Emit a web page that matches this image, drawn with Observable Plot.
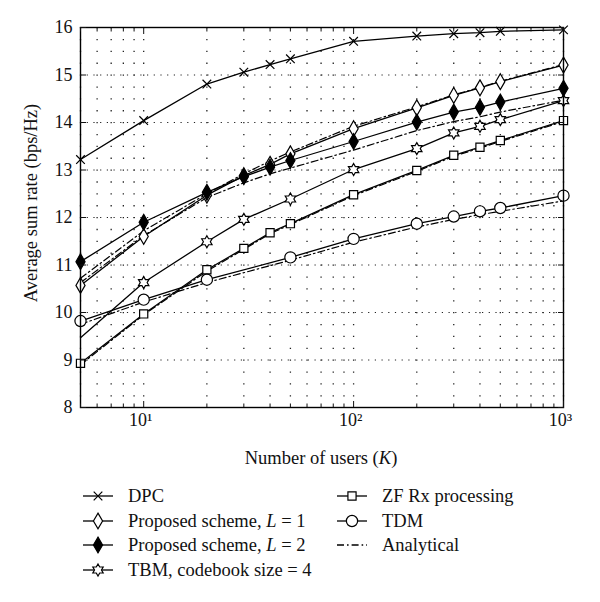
<!DOCTYPE html>
<html><head><meta charset="utf-8">
<script src="https://cdn.jsdelivr.net/npm/d3@7"></script>
<script src="https://cdn.jsdelivr.net/npm/@observablehq/plot@0.6"></script>
<style>
body{margin:0;background:#fff;font-family:"Liberation Serif","Times New Roman",serif;}
#wrap{position:relative;width:600px;height:602px;overflow:hidden;}
.row{position:absolute;height:24px;display:flex;align-items:center;font-size:18.5px;color:#111;white-space:nowrap;}
.row svg{margin-right:14px;}
</style></head><body><div id="wrap"></div>
<script>
// ---- data ----
const K = [5, 10, 20, 30, 40, 50, 100, 200, 300, 400, 500, 1000];
const dpc = [13.22, 14.04, 14.81, 15.06, 15.22, 15.34, 15.71, 15.82, 15.87, 15.89, 15.92, 15.95];
const propL1 = [10.57, 11.6, 12.47, 12.88, 13.12, 13.34, 13.87, 14.31, 14.57, 14.73, 14.86, 15.21];
const propL2 = [11.07, 11.9, 12.53, 12.86, 13.06, 13.2, 13.6, 14.01, 14.22, 14.32, 14.43, 14.72];
const zf = [8.93, 9.97, 10.9, 11.35, 11.68, 11.87, 12.48, 12.99, 13.31, 13.48, 13.62, 14.04];
const K_tbm = [5, 10, 20, 30, 50, 100, 200, 300, 400, 500, 1000];
const tbm = [9.47, 10.63, 11.49, 11.96, 12.39, 13.01, 13.45, 13.78, 13.92, 14.06, 14.46];
const K_tdm = [5, 10, 20, 50, 100, 200, 300, 400, 500, 1000];
const tdm = [9.82, 10.27, 10.69, 11.16, 11.55, 11.87, 12.02, 12.13, 12.2, 12.46];
const anaL1 = [10.72, 11.72, 12.5, 12.92, 13.19, 13.38, 13.92, 14.33, 14.58, 14.74, 14.87, 15.22];
const anaL2 = [10.63, 11.62, 12.42, 12.73, 12.92, 13.04, 13.42, 13.83, 14.02, 14.12, 14.22, 14.47];
const anaZF = [8.9, 9.95, 10.87, 11.33, 11.66, 11.85, 12.46, 12.97, 13.29, 13.46, 13.6, 14.02];
const anaTDM = [9.75, 10.22, 10.63, 11.1, 11.48, 11.8, 11.96, 12.06, 12.13, 12.35];
const yTicks = [8, 9, 10, 11, 12, 13, 14, 15, 16];
const xMajor = [10, 100, 1000];
const xMajorLabels = ["10¹", "10²", "10³"];
const xMinor = [5, 6, 7, 8, 9, 20, 30, 40, 50, 60, 70, 80, 90, 200, 300, 400, 500, 600, 700, 800, 900];
const legendLeft = ["DPC", "Proposed scheme, <i>L</i> = 1", "Proposed scheme, <i>L</i> = 2", "TBM, codebook size = 4"];
const legendRight = ["ZF Rx processing", "TDM", "Analytical"];

// ---- symbols ----
const hexagram = {
  draw(ctx, size) {
    const R = Math.sqrt(size / Math.PI) * 1.25, r = R / Math.sqrt(3);
    for (let i = 0; i < 12; i++) {
      const a = -Math.PI / 2 + i * Math.PI / 6, rr = i % 2 ? r : R;
      const x = rr * Math.cos(a), y = rr * Math.sin(a);
      i ? ctx.lineTo(x, y) : ctx.moveTo(x, y);
    }
    ctx.closePath();
  }
};

const toRows = (xs, ys) => xs.map((k, i) => ({K: k, v: ys[i]}));
const series = [
  {rows: toRows(K, dpc), sym: "times", fill: "none", r: 4},
  {rows: toRows(K, propL1), sym: "diamond", fill: "white", r: 4.8},
  {rows: toRows(K, propL2), sym: "diamond", fill: "black", r: 4.8},
  {rows: toRows(K_tbm, tbm), sym: hexagram, fill: "white", r: 4.8, skipFirst: true},
  {rows: toRows(K, zf), sym: "square", fill: "white", r: 4.6},
  {rows: toRows(K_tdm, tdm), sym: "circle", fill: "white", r: 5.6}
];
const analytical = [toRows(K, anaL1), toRows(K, anaL2), toRows(K, anaZF), toRows(K_tdm, anaTDM)];
const dashDot = "7,3,1.6,3";

const W = 600, H = 470;
const marks = [
  Plot.ruleX([...xMinor, ...xMajor], {stroke: "#222", strokeWidth: 1.3, strokeDasharray: "1.3,10.575"}),
  Plot.ruleY(yTicks.slice(1, -1), {stroke: "#222", strokeWidth: 1.2, strokeDasharray: "1.2,5.5"}),
  ...analytical.map(rows => Plot.line(rows, {x: "K", y: "v", stroke: "black", strokeWidth: 1.2, strokeDasharray: dashDot})),
  ...series.map(s => Plot.line(s.rows, {x: "K", y: "v", stroke: "black", strokeWidth: 1.3})),
  ...series.map(s => Plot.dot(s.skipFirst ? s.rows.slice(1) : s.rows, {x: "K", y: "v", symbol: () => s.sym, r: s.r, fill: s.fill, stroke: "black", strokeWidth: 1.2})),
  Plot.frame({stroke: "black", strokeWidth: 1.4}),
  Plot.axisY(yTicks, {anchor: "left", tickSize: 0, tickPadding: 8, fontSize: 18, tickFormat: d => String(d)}),
  Plot.axisY(yTicks, {anchor: "left", tickSize: -6, tickFormat: () => ""}),
  Plot.axisY(yTicks, {anchor: "right", tickSize: -6, tickFormat: () => ""}),
  Plot.axisX(xMajor, {anchor: "bottom", tickSize: 0, tickPadding: 6, fontSize: 18, dx: -3, tickFormat: (d, i) => xMajorLabels[xMajor.indexOf(d)]}),
  Plot.axisX(xMajor, {anchor: "bottom", tickSize: -6, tickFormat: () => ""}),
  Plot.axisX(xMinor, {anchor: "bottom", tickSize: -3.5, tickFormat: () => ""}),
  Plot.axisX(xMajor, {anchor: "top", tickSize: -6, tickFormat: () => ""}),
  Plot.axisX(xMinor, {anchor: "top", tickSize: -3.5, tickFormat: () => ""})
];

const chart = Plot.plot({
  width: W, height: H,
  marginLeft: 80, marginRight: 37, marginTop: 27, marginBottom: 63,
  style: {fontFamily: '"Liberation Serif","Times New Roman",serif', color: "#111", background: "white"},
  x: {type: "log", domain: [5, 1000], label: null},
  y: {domain: [8, 16], label: null},
  marks
});
const wrap = document.getElementById("wrap");
wrap.appendChild(chart);

// axis titles as real text
const svg = d3.select(chart);
svg.append("text").attr("x", 321).attr("y", 464).attr("text-anchor", "middle")
  .attr("font-size", 18.5).attr("fill", "#111").attr("font-family", '"Liberation Serif",serif')
  .html('Number of users (<tspan font-style="italic">K</tspan>)');
svg.append("text").attr("transform", "translate(37,203) rotate(-90)").attr("text-anchor", "middle")
  .attr("font-size", 18.5).attr("fill", "#111").attr("font-family", '"Liberation Serif",serif')
  .text("Average sum rate (bps/Hz)");

// legend
function icon(sym, fill, r, dashed) {
  const ns = "http://www.w3.org/2000/svg";
  const s = document.createElementNS(ns, "svg");
  s.setAttribute("width", 32); s.setAttribute("height", 20);
  const l = document.createElementNS(ns, "line");
  l.setAttribute("x1", 1); l.setAttribute("x2", 31); l.setAttribute("y1", 10); l.setAttribute("y2", 10);
  l.setAttribute("stroke", "black"); l.setAttribute("stroke-width", 1.3);
  if (dashed) l.setAttribute("stroke-dasharray", dashDot);
  s.appendChild(l);
  if (sym) {
    const symType = typeof sym === "string" ? {times: d3.symbolTimes, diamond: d3.symbolDiamond, square: d3.symbolSquare, circle: d3.symbolCircle}[sym] : sym;
    const p = document.createElementNS(ns, "path");
    p.setAttribute("d", d3.symbol(symType, r * r * Math.PI)());
    p.setAttribute("transform", "translate(16,10)");
    p.setAttribute("fill", fill); p.setAttribute("stroke", "black"); p.setAttribute("stroke-width", 1.2);
    s.appendChild(p);
  }
  return s;
}
const rowY = [484, 509, 533, 558];
legendLeft.forEach((t, i) => {
  const d = document.createElement("div"); d.className = "row";
  d.style.left = "82px"; d.style.top = rowY[i] + "px";
  d.appendChild(icon(series[i].sym, series[i].fill, series[i].r));
  const sp = document.createElement("span"); sp.innerHTML = t; d.appendChild(sp);
  wrap.appendChild(d);
});
legendRight.forEach((t, i) => {
  const d = document.createElement("div"); d.className = "row";
  d.style.left = "336px"; d.style.top = rowY[i] + "px";
  if (i < 2) d.appendChild(icon(series[4 + i].sym, series[4 + i].fill, series[4 + i].r));
  else d.appendChild(icon(null, null, 0, true));
  const sp = document.createElement("span"); sp.innerHTML = t; d.appendChild(sp);
  wrap.appendChild(d);
});
</script></body></html>
